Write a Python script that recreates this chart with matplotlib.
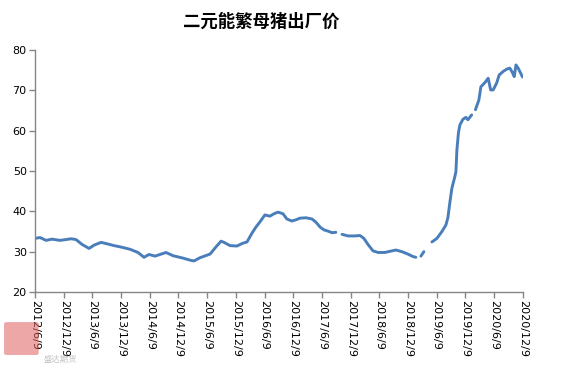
import numpy as np
import pandas as pd
import matplotlib
matplotlib.use("Agg")
import matplotlib.pyplot as plt
from matplotlib.patches import FancyBboxPatch

plt.rcParams['font.family'] = ['Noto Sans CJK SC', 'DejaVu Sans']

title = "二元能繁母猪出厂价"

# 日期与价格（元/公斤），None 表示断档
dates = [
    "2012-06-09", "2012-07-11", "2012-08-18", "2012-09-25", "2012-11-15", "2012-12-23",
    "2013-01-24", "2013-02-25", "2013-04-04", "2013-05-19", "2013-06-19", "2013-08-03",
    "2013-09-16", "2013-10-25", "2013-12-02", "2014-02-03", "2014-03-26", "2014-05-04",
    "2014-06-04", "2014-07-13", "2014-09-21", "2014-11-04", "2015-01-07", "2015-02-20",
    "2015-03-18", "2015-04-25", "2015-06-28", "2015-08-05", "2015-09-06", "2015-09-25",
    "2015-11-02", "2015-12-16", "2016-01-23", "2016-02-18", "2016-03-21", "2016-04-15",
    "2016-05-11", "2016-06-11", "2016-07-13", "2016-08-08", "2016-09-02", "2016-10-04",
    "2016-10-29", "2016-11-30", "2016-12-26", "2017-01-20", "2017-02-27", "2017-04-07",
    "2017-05-02", "2017-05-28", "2017-06-22", "2017-07-17", "2017-08-12", "2017-09-06",
    "2017-09-20", "2017-10-15", "2017-11-22", "2018-01-05", "2018-02-06", "2018-03-03",
    "2018-03-29", "2018-04-30", "2018-06-01", "2018-07-15", "2018-08-29", "2018-09-23",
    "2018-10-31", "2018-12-08", "2019-01-09", "2019-01-28", "2019-02-10", "2019-03-01",
    "2019-03-20", "2019-04-10", "2019-05-10", "2019-06-11", "2019-07-13", "2019-08-07",
    "2019-08-20", "2019-09-02", "2019-09-14", "2019-10-03", "2019-10-10", "2019-10-16",
    "2019-10-26", "2019-11-04", "2019-11-23", "2019-12-12", "2019-12-25", "2020-01-18",
    "2020-01-28", "2020-02-11", "2020-03-04", "2020-03-17", "2020-04-11", "2020-05-02",
    "2020-05-18", "2020-06-03", "2020-06-25", "2020-07-11", "2020-08-06", "2020-08-31",
    "2020-09-17", "2020-10-05", "2020-10-15", "2020-10-26", "2020-11-09", "2020-11-24",
    "2020-12-07",
]
prices = [
    33.3, 33.5, 32.8, 33.1, 32.8, 33.0,
    33.2, 33.0, 31.8, 30.8, 31.6, 32.3,
    31.9, 31.5, 31.2, 30.6, 29.8, 28.6,
    29.3, 28.9, 29.8, 29.0, 28.4, 27.9,
    27.7, 28.5, 29.4, 31.2, 32.6, 32.3,
    31.5, 31.4, 32.1, 32.4, 34.6, 36.1,
    37.4, 39.1, 38.8, 39.4, 39.8, 39.4,
    38.1, 37.6, 37.9, 38.3, 38.4, 38.1,
    37.3, 36.1, 35.4, 35.1, 34.7, 34.8,
    None, 34.3, 33.9, 33.9, 34.0, 33.3,
    31.8, 30.2, 29.8, 29.8, 30.2, 30.4,
    30.0, 29.4, 28.8, 28.6, None, 28.9,
    30.0, None, 32.4, 33.3, 35.0, 36.6,
    38.5, 42.4, 45.7, 48.6, 49.9, 55.2,
    59.5, 61.4, 62.8, 63.3, 62.7, 63.9,
    None, 65.2, 67.6, 70.9, 71.9, 73.0,
    70.1, 70.1, 71.8, 73.8, 74.7, 75.3,
    75.5, 74.3, 73.4, 76.3, 75.5, 74.3,
    73.3,
]

tick_dates = ["2012-06-09", "2012-12-09", "2013-06-09", "2013-12-09", "2014-06-09",
              "2014-12-09", "2015-06-09", "2015-12-09", "2016-06-09", "2016-12-09",
              "2017-06-09", "2017-12-09", "2018-06-09", "2018-12-09", "2019-06-09",
              "2019-12-09", "2020-06-09", "2020-12-09"]
tick_labels = ["2012/6/9", "2012/12/9", "2013/6/9", "2013/12/9", "2014/6/9",
               "2014/12/9", "2015/6/9", "2015/12/9", "2016/6/9", "2016/12/9",
               "2017/6/9", "2017/12/9", "2018/6/9", "2018/12/9", "2019/6/9",
               "2019/12/9", "2020/6/9", "2020/12/9"]

x = pd.to_datetime(dates)
y = np.array([np.nan if v is None else v for v in prices])

fig = plt.figure(figsize=(5.77, 3.66), dpi=100)
ax = fig.add_axes([0.0607, 0.2022, 0.8455, 0.6612])

ax.plot(x, y, color='#4A7EBB', lw=2.1, solid_capstyle='round')

ax.set_xlim(pd.Timestamp(tick_dates[0]), pd.Timestamp(tick_dates[-1]))
ax.set_ylim(20, 80)
ax.set_yticks(range(20, 81, 10))
ax.set_xticks(pd.to_datetime(tick_dates))
ax.set_xticklabels(tick_labels, rotation=270, fontsize=8, family=['DejaVu Sans'])
for lab in ax.get_yticklabels():
    lab.set_fontsize(8)
    lab.set_family(['DejaVu Sans'])

for s in ['top', 'right']:
    ax.spines[s].set_visible(False)
for s in ['left', 'bottom']:
    ax.spines[s].set_color('#868686')
    ax.spines[s].set_linewidth(1.0)
ax.tick_params(axis='both', colors='#868686', labelcolor='black', length=4, width=1.0, pad=2)

fig.text(0.453, 0.94, title, ha='center', va='center', fontsize=12.5, fontweight='bold')

# 水印（放在底部，避免压住刻度文字）
logo = FancyBboxPatch((0.012, 0.035), 0.05, 0.08, boxstyle="round,pad=0.005",
                      transform=fig.transFigure, facecolor='#E06060', alpha=0.55,
                      edgecolor='none', zorder=0)
fig.patches.append(logo)
fig.text(0.075, 0.005, "盛达期货", fontsize=6, color='#999999', alpha=0.6,
         ha='left', va='bottom')

fig.savefig("out.png", dpi=100)
